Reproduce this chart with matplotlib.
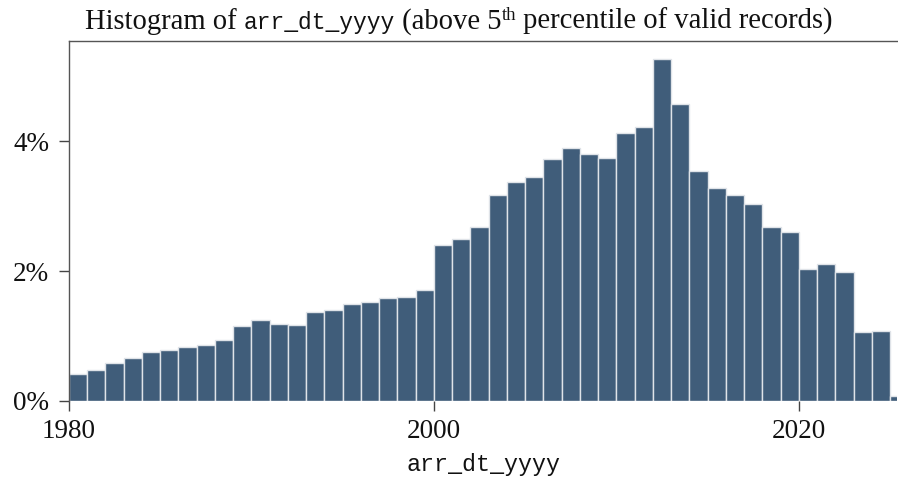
import matplotlib
matplotlib.use("Agg")
import matplotlib.pyplot as plt
from matplotlib.ticker import FuncFormatter

years = list(range(1980, 2026))
pct = [0.41, 0.48, 0.585, 0.656, 0.76, 0.79, 0.83, 0.867, 0.94, 1.154,
       1.24, 1.185, 1.164, 1.374, 1.40, 1.492, 1.518, 1.579, 1.595, 1.708,
       2.40, 2.487, 2.68, 3.164, 3.364, 3.446, 3.723, 3.90, 3.805, 3.733,
       4.118, 4.215, 5.26, 4.574, 3.538, 3.272, 3.169, 3.026, 2.672, 2.595,
       2.036, 2.113, 1.99, 1.056, 1.077, 0.072]
xticks = [1980, 2000, 2020]
yticks = [0, 2, 4]

SERIF = ['Liberation Serif', 'DejaVu Serif']
MONO = ['Liberation Mono', 'DejaVu Sans Mono']
plt.rcParams['font.family'] = SERIF

fig = plt.figure(figsize=(8.98, 4.8), dpi=100)
ax = fig.add_axes([69/898, 79/480, 828/898, 360/480])

ax.bar(years, pct, width=1.0, align='edge', color='#405d7a',
       edgecolor='#dfe3e8', linewidth=1.0)

ax.set_xlim(1980, 2025.37)
ax.set_ylim(0, 5.54)
ax.set_xticks(xticks)
ax.set_yticks(yticks)
ax.yaxis.set_major_formatter(FuncFormatter(lambda v, p: f"{v:.0f}%"))
ax.tick_params(axis='both', length=7.2, width=1, color='#444444',
               labelsize=19.5, labelcolor='#111111')
ax.tick_params(axis='x', pad=6)
ax.tick_params(axis='y', pad=7)
for s in ['right', 'bottom']:
    ax.spines[s].set_visible(False)
for s in ['left', 'top']:
    ax.spines[s].set_color('#555555')
    ax.spines[s].set_linewidth(1.0)

ax.set_xlabel('arr_dt_yyyy', family=MONO, fontsize=16.8, labelpad=6,
              color='#111111')

# Title built from pieces (serif text, monospace variable name, superscript)
pieces = [
    ("Histogram of ", SERIF, 20.6, 0),
    ("arr_dt_yyyy", MONO, 16.6, 0),
    (" (above 5", SERIF, 20.6, 0),
    ("th", SERIF, 13.5, 9),
    (" percentile of valid records)", SERIF, 20.6, 0),
]
renderer = fig.canvas.get_renderer()
x_px = 85.0
base_px = 480 - 29
for txt, fam, size, dy in pieces:
    t = fig.text(x_px / 898, (base_px + dy) / 480, txt, family=fam,
                 fontsize=size, ha='left', va='baseline', color='#111111')
    bb = t.get_window_extent(renderer)
    x_px += bb.width

fig.savefig('out.png', dpi=100)
